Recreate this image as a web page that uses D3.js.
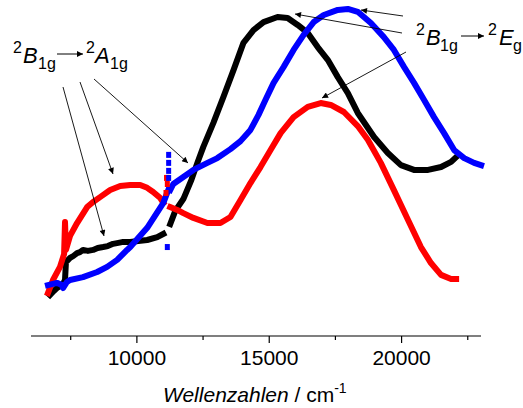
<!DOCTYPE html>
<html>
<head>
<meta charset="utf-8">
<script src="https://cdn.jsdelivr.net/npm/d3@7"></script>
<style>
  html, body { margin: 0; padding: 0; background: #fff; }
  svg { display: block; }
  text { font-family: "Liberation Sans", Arial, sans-serif; fill: #000; }
</style>
</head>
<body>
<svg id="chart" width="523" height="408"></svg>
<script>
// Absorption spectra, [wavenumber / cm^-1, relative absorbance].
// Each sample was recorded on two detectors (NIR and Vis), so each trace has two pieces.
const blackNIR = [
  [6716, 0.128], [6850, 0.140], [6980, 0.150], [7100, 0.156], [7210, 0.163], [7285, 0.175],
  [7320, 0.231], [7475, 0.244], [7600, 0.250], [7740, 0.259], [7850, 0.262], [7965, 0.269],
  [8150, 0.266], [8345, 0.269], [8520, 0.275], [8725, 0.278], [8900, 0.281], [9100, 0.288],
  [9300, 0.291], [9480, 0.294], [9750, 0.294], [10050, 0.297], [10390, 0.300], [10770, 0.309],
  [11000, 0.319]
];
const blackVIS = [
  [11260, 0.350], [11450, 0.391], [11755, 0.428], [12060, 0.488], [12285, 0.541],
  [12510, 0.591], [12890, 0.666], [13270, 0.747], [13650, 0.831], [14025, 0.916],
  [14405, 0.956], [14785, 0.981], [15315, 0.997], [15695, 0.994], [16075, 0.972],
  [16455, 0.947], [16830, 0.903], [17210, 0.863], [17590, 0.809], [17970, 0.759],
  [18345, 0.697], [18960, 0.622], [19480, 0.572], [19975, 0.534], [20470, 0.519],
  [21000, 0.519], [21490, 0.528], [21870, 0.544], [22060, 0.559]
];

const redNIR = [
  [6640, 0.134], [6830, 0.175], [7095, 0.216], [7250, 0.256], [7285, 0.356], [7320, 0.269],
  [7475, 0.313], [7740, 0.353], [8120, 0.403], [8345, 0.419], [8610, 0.434], [8990, 0.456],
  [9370, 0.469], [9750, 0.472], [10125, 0.472], [10390, 0.463], [10615, 0.450],
  [10885, 0.431], [11000, 0.416]
];
const redVIS = [
  [11260, 0.403], [11525, 0.394], [11755, 0.384], [12135, 0.369], [12665, 0.353],
  [13155, 0.353], [13535, 0.372], [13915, 0.425], [14290, 0.478], [14670, 0.528],
  [15050, 0.581], [15430, 0.634], [15920, 0.684], [16455, 0.716], [16945, 0.728],
  [17325, 0.722], [17820, 0.700], [18345, 0.656], [18725, 0.613], [19215, 0.541],
  [19710, 0.456], [20240, 0.363], [20730, 0.278], [21110, 0.228], [21490, 0.191],
  [21870, 0.178], [22060, 0.178]
];

const blueNIR = [
  [6640, 0.159], [6980, 0.166], [7150, 0.160], [7210, 0.150], [7360, 0.169], [7475, 0.175],
  [7965, 0.184], [8500, 0.200], [8875, 0.216], [9255, 0.238], [9630, 0.269], [9750, 0.278],
  [10390, 0.338], [11000, 0.416], [11185, 0.456]
];
const blueVIS = [
  [11260, 0.456], [11375, 0.475], [11755, 0.497], [12135, 0.519], [12665, 0.541],
  [13040, 0.556], [13535, 0.584], [13915, 0.609], [14290, 0.644], [14595, 0.691],
  [14860, 0.738], [15165, 0.791], [15545, 0.841], [15920, 0.894], [16300, 0.941],
  [16680, 0.981], [17060, 1.003], [17590, 1.019], [17970, 1.022], [18345, 1.013],
  [18840, 0.978], [19330, 0.934], [19710, 0.894], [20090, 0.841], [20470, 0.791],
  [20845, 0.738], [21225, 0.684], [21605, 0.634], [21985, 0.581], [22365, 0.556],
  [22740, 0.541], [23005, 0.534]
];

// Stray points at the detector changeover
const blueStray = [
  [11200, 0.566], [11200, 0.541], [11200, 0.516], [11200, 0.494], [11150, 0.278]
];
const redStray = [
  [11120, 0.494], [11150, 0.475], [11100, 0.447]
];

const xTicksMajor = [10000, 15000, 20000];
const xTicksMinor = [7500, 12500, 17500, 22500];
const xTitle = "Wellenzahlen";
const xUnit = " / cm";
const xUnitExp = "-1";

// Band assignments: [superscript, term, subscript]
const lowTransition = [["2", "B", "1g"], ["2", "A", "1g"]];
const highTransition = [["2", "B", "1g"], ["2", "E", "g"]];

const svg = d3.select("#chart");

const x = d3.scaleLinear().domain([6000, 23000]).range([31, 481]);
const y = d3.scaleLinear().domain([0, 1]).range([336, 16]);

// Defs: arrowhead
const defs = svg.append("defs");
defs.append("marker")
  .attr("id", "head")
  .attr("viewBox", "0 0 10 10")
  .attr("refX", 10).attr("refY", 5)
  .attr("markerUnits", "userSpaceOnUse")
  .attr("markerWidth", 9).attr("markerHeight", 6)
  .attr("orient", "auto")
  .append("path").attr("d", "M0,0 L10,5 L0,10 Z").attr("fill", "#000");

// x axis (bottom only, ticks pointing down)
const axisG = svg.append("g").attr("transform", "translate(0,336)");
axisG.append("line")
  .attr("x1", x.range()[0]).attr("x2", x.range()[1])
  .attr("y1", 0).attr("y2", 0)
  .attr("stroke", "#000").attr("stroke-width", 1.2);
axisG.selectAll(".minor").data(xTicksMinor).join("line")
  .attr("class", "minor")
  .attr("x1", d => x(d)).attr("x2", d => x(d))
  .attr("y1", 0).attr("y2", 4)
  .attr("stroke", "#000").attr("stroke-width", 1.2);
axisG.selectAll(".major").data(xTicksMajor).join("line")
  .attr("class", "major")
  .attr("x1", d => x(d)).attr("x2", d => x(d))
  .attr("y1", 0).attr("y2", 7)
  .attr("stroke", "#000").attr("stroke-width", 1.2);
axisG.selectAll(".lbl").data(xTicksMajor).join("text")
  .attr("class", "lbl")
  .attr("x", d => x(d)).attr("y", 29)
  .attr("text-anchor", "middle")
  .attr("font-size", 21)
  .text(d => d);

// Axis title
const title = svg.append("text")
  .attr("x", 163).attr("y", 402)
  .attr("font-size", 21);
title.append("tspan").attr("font-style", "italic").text(xTitle);
title.append("tspan").text(xUnit);
title.append("tspan").attr("font-size", 14).attr("dy", -9).text(xUnitExp);

// Spectra
const line = d3.line().x(d => x(d[0])).y(d => y(d[1]));
const traces = [
  { data: [blackNIR, blackVIS], color: "#000000" },
  { data: [redNIR, redVIS], color: "#ff0000" },
  { data: [blueNIR, blueVIS], color: "#0000ff" }
];
const spectraG = svg.append("g");
traces.forEach(t => {
  t.data.forEach(seg => {
    spectraG.append("path")
      .attr("d", line(seg))
      .attr("fill", "none")
      .attr("stroke", t.color)
      .attr("stroke-width", 6)
      .attr("stroke-linejoin", "round")
      .attr("stroke-linecap", "square");
  });
});
spectraG.selectAll(".rs").data(redStray).join("rect")
  .attr("x", d => x(d[0]) - 2.5).attr("y", d => y(d[1]) - 3)
  .attr("width", 5).attr("height", 6).attr("fill", "#ff0000");
spectraG.selectAll(".bs").data(blueStray).join("rect")
  .attr("x", d => x(d[0]) - 2.5).attr("y", d => y(d[1]) - 3)
  .attr("width", 5).attr("height", 6).attr("fill", "#0000ff");

// Annotation arrows
const annotG = svg.append("g").attr("stroke", "#000").attr("stroke-width", 0.9);
const arrows = [
  [63, 87, 104, 236], [80, 82, 113, 174], [94, 79, 188, 163],
  [403, 16, 361, 10], [402, 33, 295, 14], [406, 52, 322, 98]
];
annotG.selectAll("line").data(arrows).join("line")
  .attr("x1", d => d[0]).attr("y1", d => d[1])
  .attr("x2", d => d[2]).attr("y2", d => d[3])
  .attr("marker-end", "url(#head)");

// Term symbol labels: superscript multiplicity, italic term, subscript
function term(g, parts, xs, base) {
  const [sup, letter, sub] = parts;
  g.append("text").attr("x", xs[0]).attr("y", base - 10).attr("font-size", 16).text(sup);
  g.append("text").attr("x", xs[1]).attr("y", base).attr("font-size", 22)
    .attr("font-style", "italic").text(letter);
  g.append("text").attr("x", xs[2]).attr("y", base + 6).attr("font-size", 16).text(sub);
}
function transition(parts, xsA, xsB, arrow, base) {
  const g = svg.append("g");
  term(g, parts[0], xsA, base);
  g.append("line")
    .attr("x1", arrow[0]).attr("x2", arrow[1])
    .attr("y1", base - 9).attr("y2", base - 9)
    .attr("stroke", "#000").attr("stroke-width", 1)
    .attr("marker-end", "url(#head)");
  term(g, parts[1], xsB, base);
}
transition(lowTransition, [13, 23, 38], [86, 95, 110], [57, 83], 63);
transition(highTransition, [416, 426, 440], [488, 499, 513], [461, 484], 45);
</script>
</body>
</html>
